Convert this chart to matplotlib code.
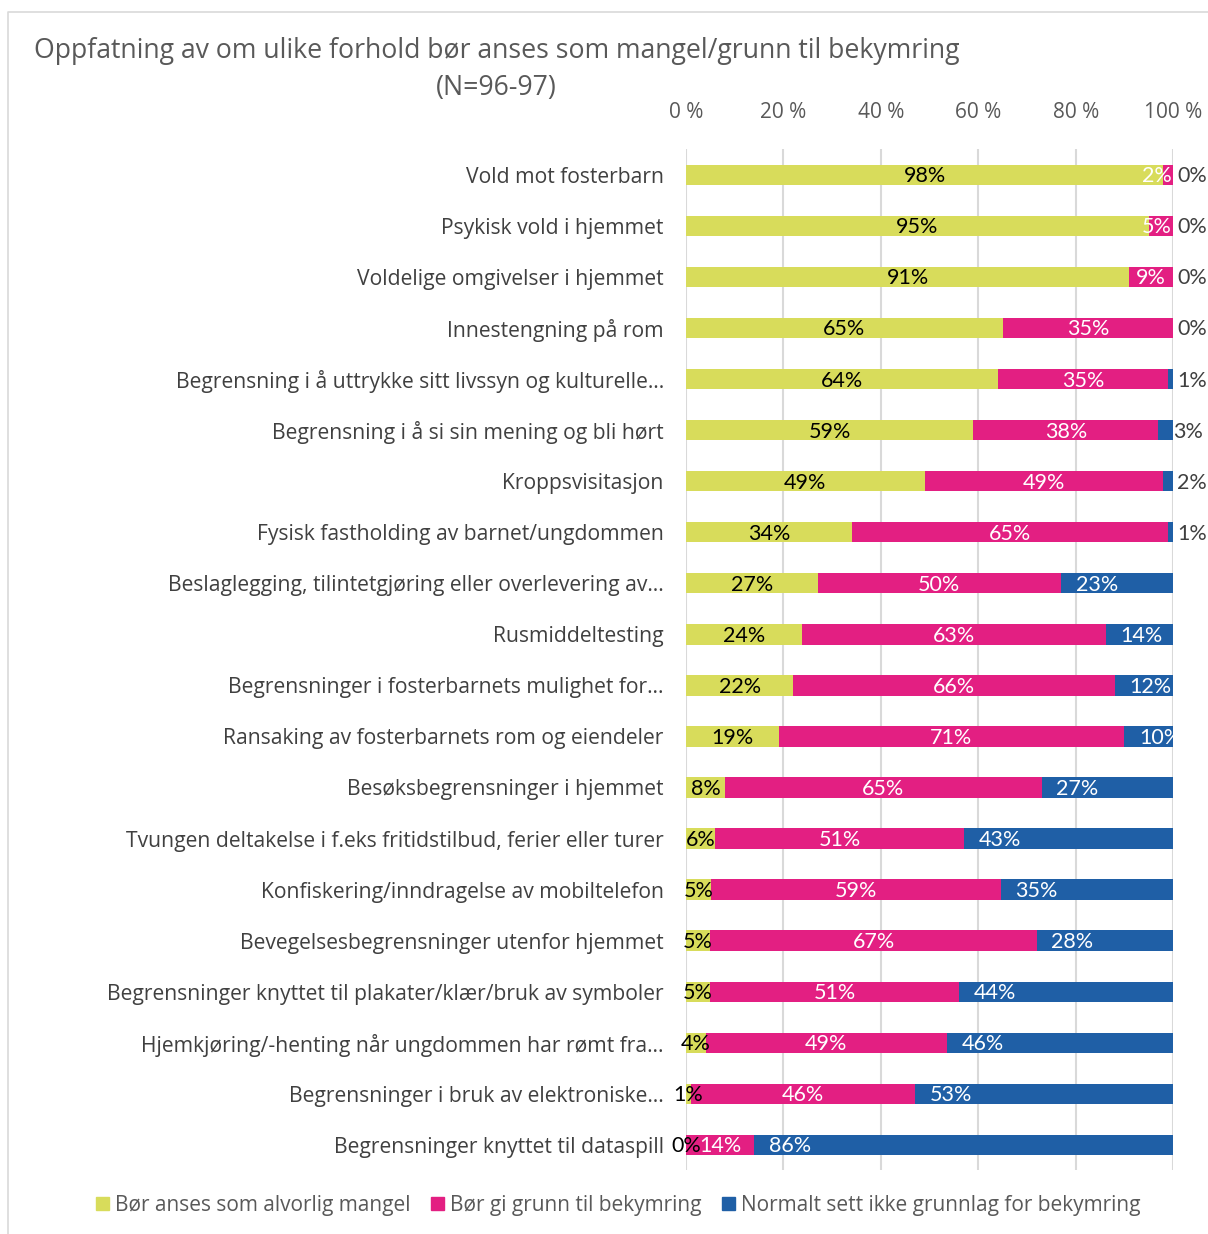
import numpy as np
import matplotlib.pyplot as plt
from matplotlib.lines import Line2D
from matplotlib.patches import Patch

categories = [
    'Vold mot fosterbarn',
    'Psykisk vold i hjemmet',
    'Voldelige omgivelser i hjemmet',
    'Innestengning på rom',
    'Begrensning i å uttrykke sitt livssyn og kulturelle…',
    'Begrensning i å si sin mening og bli hørt',
    'Kroppsvisitasjon',
    'Fysisk fastholding av barnet/ungdommen',
    'Beslaglegging, tilintetgjøring eller overlevering av…',
    'Rusmiddeltesting',
    'Begrensninger i fosterbarnets mulighet for…',
    'Ransaking av fosterbarnets rom og eiendeler',
    'Besøksbegrensninger i hjemmet',
    'Tvungen deltakelse i f.eks fritidstilbud, ferier eller turer',
    'Konfiskering/inndragelse av mobiltelefon',
    'Bevegelsesbegrensninger utenfor hjemmet',
    'Begrensninger knyttet til plakater/klær/bruk av symboler',
    'Hjemkjøring/-henting når ungdommen har rømt fra…',
    'Begrensninger i bruk av elektroniske…',
    'Begrensninger knyttet til dataspill',
]
alvorlig = [98, 95, 91, 65, 64, 59, 49, 34, 27, 24, 22, 19, 8, 6, 5, 5, 5, 4, 1, 0]
bekymring = [2, 5, 9, 35, 35, 38, 49, 65, 50, 63, 66, 71, 65, 51, 59, 67, 51, 49, 46, 14]
normalt = [0, 0, 0, 0, 1, 3, 2, 1, 23, 14, 12, 10, 27, 43, 35, 28, 44, 46, 53, 86]
series_names = ['Bør anses som alvorlig mangel', 'Bør gi grunn til bekymring',
                'Normalt sett ikke grunnlag for bekymring']

colors = ['#D8DC5B', '#E31F82', '#1F5FA6']
label_colors = ['black', 'white', 'white']

plt.rcParams['font.family'] = ['Open Sans', 'DejaVu Sans']

fig = plt.figure(figsize=(12.08, 12.34), dpi=100)
ax = fig.add_axes([0.5679, 0.0515, 0.4032, 0.8276])

data = np.array([alvorlig, bekymring, normalt], dtype=float)
share = data / data.sum(axis=0) * 100  # 100 % stacked
y = np.arange(len(categories))
left = np.zeros(len(categories))
for k in range(3):
    ax.barh(y, share[k], left=left, height=0.4, color=colors[k], zorder=3)
    for i in range(len(categories)):
        v = int(data[k, i])
        if k == 2:
            # last series: label at the inside base of the segment
            x0 = min(left[i] + 3.0, 100.8)
            col = 'white' if v >= 5 else '#404040'
            ax.text(x0, y[i] + 0.03, '%d%%' % v, ha='left', va='center',
                    fontsize=15.5, color=col, family='Lato', clip_on=False, zorder=4)
        else:
            c = left[i] + share[k, i] / 2
            if k == 1:
                c = min(c, 96.6)  # keep label inside plot area
            ax.text(c, y[i] + 0.03, '%d%%' % v, ha='center', va='center',
                    fontsize=15.5, color=label_colors[k], family='Lato', zorder=4)
    left += share[k]

ax.set_ylim(len(categories) - 0.5, -0.5)
ax.set_xlim(0, 100)
ax.set_yticks(y)
ax.set_yticklabels(categories, fontsize=15.2, color='#404040')
ax.set_xticks(np.arange(0, 101, 20))
ax.set_xticklabels(['%d %%' % t for t in range(0, 101, 20)], fontsize=15, color='#595959')
ax.xaxis.tick_top()
ax.tick_params(axis='x', length=0, pad=19)
ax.tick_params(axis='y', length=0, pad=16)
for s in ax.spines.values():
    s.set_visible(False)
ax.grid(axis='x', color='#D9D9D9', linewidth=1.5, zorder=0)
ax.set_axisbelow(True)

fig.text(0.411, 0.959, 'Oppfatning av om ulike forhold bør anses som mangel/grunn til bekymring',
         ha='center', va='center', fontsize=19.2, color='#595959')
fig.text(0.411, 0.929, '(N=96-97)', ha='center', va='center', fontsize=19.2, color='#595959')

# chart frame
fig.add_artist(Line2D([0.0066, 0.0066, 1.0], [0.0, 0.9903, 0.9903], color='#D9D9D9', linewidth=1.2))

handles = [Patch(color=c) for c in colors]
fig.legend(handles, series_names, loc='center', bbox_to_anchor=(0.512, 0.023), ncol=3,
           frameon=False, fontsize=15, handlelength=0.6, handleheight=0.6,
           handletextpad=0.3, columnspacing=1.0, labelcolor='#595959')

fig.savefig('out.png', dpi=100)
